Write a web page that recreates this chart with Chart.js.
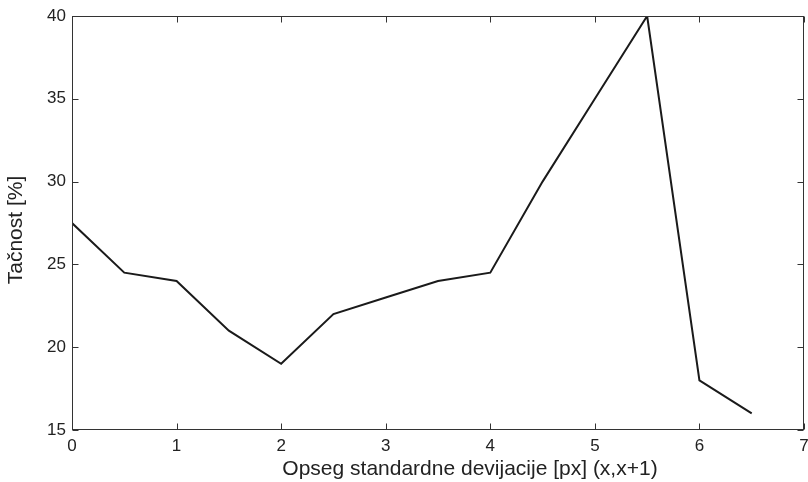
<!DOCTYPE html>
<html lang="sr">
<head>
<meta charset="UTF-8">
<title>Tačnost</title>
<style>
  html, body { margin: 0; padding: 0; background: #fff; }
  #wrap { width: 808px; height: 482px; }
</style>
</head>
<body>
<div id="wrap"><canvas id="grafik"></canvas></div>
<script src="https://cdn.jsdelivr.net/npm/chart.js"></script>
<script>
const xVrednosti = [0, 0.5, 1, 1.5, 2, 2.5, 3, 3.5, 4, 4.5, 5, 5.5, 6, 6.5];
const tacnost = [27.5, 24.5, 24, 21, 19, 22, 23, 24, 24.5, 30, 35, 40, 18, 16];
const xOpseg = [0, 7];
const yOpseg = [15, 40];
const xKorak = 1;
const yKorak = 5;
const xNaslov = 'Opseg standardne devijacije [px] (x,x+1)';
const yNaslov = 'Tačnost [%]';

const font = "'Liberation Sans', Arial, Helvetica, sans-serif";
const boja = '#1a1a1a';

// okvir, crtice ka unutra i nazivi osa (kao u matlabu)
const okvir = {
  id: 'okvir',
  afterDraw(chart) {
    const c = chart.ctx, a = chart.chartArea;
    const sx = chart.scales.x, sy = chart.scales.y;
    const d = 6;
    c.save();
    c.strokeStyle = '#333';
    c.lineWidth = 1;
    const l = Math.round(a.left) + 0.5, t = Math.round(a.top) + 0.5;
    const r = Math.round(a.right) - 0.5, b = Math.round(a.bottom) - 0.5;
    c.strokeRect(l, t, r - l, b - t);
    c.beginPath();
    sx.ticks.forEach(tk => {
      const x = Math.round(sx.getPixelForValue(tk.value)) + 0.5;
      c.moveTo(x, b); c.lineTo(x, b - d);
      c.moveTo(x, t); c.lineTo(x, t + d);
    });
    sy.ticks.forEach(tk => {
      const y = Math.round(sy.getPixelForValue(tk.value)) + 0.5;
      c.moveTo(l, y); c.lineTo(l + d, y);
      c.moveTo(r, y); c.lineTo(r - d, y);
    });
    c.stroke();

    c.fillStyle = '#222';
    c.font = '21px ' + font;
    c.textBaseline = 'alphabetic';
    c.textAlign = 'center';
    c.fillText(xNaslov, (a.left + a.right) / 2 + 32, chart.height - 7);
    c.translate(22, (a.top + a.bottom) / 2 + 7);
    c.rotate(-Math.PI / 2);
    c.fillText(yNaslov, 0, 0);
    c.restore();
  }
};

new Chart(document.getElementById('grafik'), {
  type: 'line',
  data: {
    datasets: [{
      data: xVrednosti.map((x, i) => ({ x: x, y: tacnost[i] })),
      borderColor: boja,
      borderWidth: 2,
      pointRadius: 0,
      tension: 0,
      fill: false
    }]
  },
  options: {
    responsive: true,
    maintainAspectRatio: false,
    animation: false,
    layout: { padding: { top: 16, right: 4, left: 0, bottom: 0 } },
    plugins: { legend: { display: false }, tooltip: { enabled: false } },
    scales: {
      x: {
        type: 'linear',
        min: xOpseg[0], max: xOpseg[1],
        grid: { display: false, drawTicks: false },
        border: { display: false },
        ticks: { stepSize: xKorak, color: '#222', padding: 6, font: { family: font, size: 17 }, maxRotation: 0 },
        afterFit(s) { s.height = 52; s.paddingRight = 0; s.paddingLeft = 0; }
      },
      y: {
        min: yOpseg[0], max: yOpseg[1],
        grid: { display: false, drawTicks: false },
        border: { display: false },
        ticks: { stepSize: yKorak, color: '#222', padding: 6, font: { family: font, size: 17 } },
        afterFit(s) { s.width = 72; s.paddingTop = 0; s.paddingBottom = 0; }
      }
    }
  },
  plugins: [okvir]
});
</script>
</body>
</html>
